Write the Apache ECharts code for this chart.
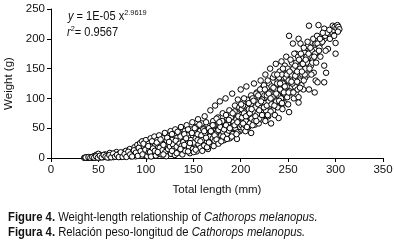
<!DOCTYPE html>
<html>
<head>
<meta charset="utf-8">
<script src="https://cdn.jsdelivr.net/npm/echarts@6/dist/echarts.min.js"></script>
<style>
html,body{margin:0;padding:0;background:#fff;}
#chart{width:394px;height:246px;}
</style>
</head>
<body>
<div id="chart"></div>
<script>
// ---- data ----
const xTicks = [0, 50, 100, 150, 200, 250, 300, 350];
const yTicks = [0, 50, 100, 150, 200, 250];

// [total length (mm), weight (g)]
const smallFish = [
[35,0.3],[36,0.5],[37,0.2],[38,0.6],[38,1.2],[39,0.4],[40,0.8],[40,0.3],[41,1.5],[42,0.6],[42,1.0],[43,0.3],[44,0.9],[44,2.0],[45,1.1],[46,0.5],[46,3.5],[47,1.4],[48,0.8],[48,5.5],[49,2.2],[50,1.0],[50,7.0],[51,1.6],[52,0.9],[53,2.5],[54,4.5],[55,1.3],[56,2.0],[57,6.0],[58,1.5],[59,3.0],[60,2.2],[61,0.8],[62,8.5],[63,3.5],[64,2.0],[65,4.0],[66,1.5],[67,6.5],[68,3.0],[69,10.0],[70,2.5],[71,4.5],[72,7.5],[73,3.2],[74,1.8],[75,5.0],[76,9.0],[77,3.8],[78,2.5],[79,12.0],[80,5.5],[81,4.0],[82,8.0],[83,15.0],[84,3.0],[85,6.5],[86,10.5],[87,4.5],[88,18.0],[88,7.5],[89,2.8],[90,12.0],[90,5.5],[91,22.0],[92,8.0],[93,4.0],[93,15.5],[94,25.0],[95,6.5],[95,10.0],[96,28.0],[96,3.5],[97,13.0],[98,8.5],[98,20.0],[99,5.5],[100,30.0],[100,11.0],[101,16.0],[102,7.5],
[36.5,0.8],[39.5,1.5],[41.5,0.4],[43.5,1.8],[45.5,0.7],[47.5,2.8],[49.5,0.6],[51.5,3.8],[53.5,1.2],[55.5,5.0],[57.5,2.5],[59.5,0.9],[61.5,4.8],[63.5,1.2],[65.5,7.5],[67.5,2.2],[69.5,5.2],[71.5,1.5],[73.5,9.5],[75.5,2.0],[77.5,6.5],[79.5,1.8],[81.5,10.5],[83.5,6.0],[85.5,2.5],[87.5,13.0],[89.5,9.0],[91.5,3.5],[92.5,17.0],[94.5,11.5],[96.5,6.0],[97.5,24.0],[99.5,14.0],[101.5,3.0]
];
const mediumFish = [
[103,24],[103,9.5],[104,14],[105,33],[105,6.5],[106,19],[107,11],[108,27],[108,8],[109,36],[110,15],[110,22],[111,5],[112,12],[112,30],[113,18],[114,9],[114,38],[115,25],[116,14],[117,20],[117,7],[118,33],[119,11],[119,16],[120,42],[120,24],[121,13],[122,29],[122,9],[123,18],[124,36],[124,21],[125,12],[126,26],[126,45],[127,16],[128,31],[128,10],[129,22],[130,38],[130,14],[131,48],[131,19],[132,27],[133,12],[133,34],[134,23],[135,17],[135,42],[136,29],[137,14],[137,52],[138,25],[139,20],[139,35],[140,31],[140,16],[141,45],[142,22],[142,28],[143,55],[143,18],[144,38],[145,26],[145,14],[146,33],[147,48],[147,21],[148,29],[149,60],[149,24],[150,36],[150,18],[151,42],[151,28],[152,22],[153,52],[153,31],[154,25],[155,65],[155,38],[156,20],[156,29],[157,45],[158,33],[158,24],[159,58],[159,27],[160,40],[160,19],[161,35],[162,70],[162,30],[163,48],[163,25],[164,38],[165,55],[165,22],[166,33],[166,44],[167,28],[168,80],[168,37],[169,50],[169,31],[170,42],[170,26],[171,62],[171,36],[172,46],[173,33],[173,88],[174,40],[174,54],[175,29],[175,44],[176,68],[176,38],[177,50],[178,35],[178,95],[179,57],[179,43],[180,48],[180,32],[181,75],[181,52],[182,40],[183,60],[183,45],[184,37],[184,100],[185,55],[185,48],[186,66],[186,42],[187,52],[188,80],[188,38],[189,58],[189,47],[190,62],[190,44],[191,108],[191,54],[192,70],[192,49],[193,42],[194,65],[194,88],[195,56],[195,48],[196,75],[196,32],[197,60],[197,98],[198,52],[198,68],[199,45],[200,72],[200,60],[200,115],
[102.5,20],[104.5,10],[105.5,2.5],[106.5,28],[107.5,16],[109.5,12],[110.5,4],[111.5,26],[113.5,8],[114.5,17],[115.5,31],[116.5,6],[117.5,13],[118.5,22],[120.5,10],[121.5,3],[122.5,34],[123.5,15],[125.5,19],[126.5,7],[127.5,40],[128.5,23],[129.5,15],[130.5,5],[131.5,29],[132.5,19],[133.5,44],[134.5,9],[135.5,24],[136.5,36],[137.5,20],[138.5,6],[139.5,27],[140.5,40],[141.5,12],[142.5,33],[143.5,24],[144.5,48],[145.5,19],[146.5,8],[147.5,30],[148.5,42],[149.5,15],[150.5,26],[151.5,50],[152.5,33],[153.5,11],[154.5,40],[155.5,23],[156.5,56],[157.5,17],[158.5,38],
[159.5,30],[160.5,48],[161.5,21],[162.5,42],[163.5,60],[164.5,28],[165.5,15],[166.5,50],[167.5,36],[168.5,24],[169.5,44],[170.5,33],[171.5,55],[172.5,29],[173.5,40],[174.5,66],[175.5,35],[176.5,47],[177.5,27],[178.5,52],[179.5,38],[180.5,62],[181.5,44],[182.5,30],[183.5,54],[184.5,72],[185.5,40],[186.5,58],[187.5,46],[188.5,33],[189.5,68],[190.5,52],[191.5,40],[192.5,60],[193.5,78],[194.5,50],[195.5,65],[196.5,43],[197.5,55],[198.5,85],[199.5,62],[200.5,48],
[112.5,10],[118.5,6],[124.5,27],[127.5,12],[132.5,8],[136.5,15],[140.5,22],[144.5,11],[146.5,25],[150.5,10],[152.5,14],[154.5,30],[157.5,28],[159.5,12],[161.5,45],[163.5,34],[164.5,18],[166.5,26],[168.5,45],[170.5,55],[171.5,20],[172.5,38],[174.5,31],[176.5,24],[177.5,60],[179.5,28],[181.5,36],[182.5,48],[184.5,55],[185.5,32],[187.5,64],[188.5,50],[190.5,36],[191.5,75],[193.5,55],[195.5,40],[196.5,60],[197.5,70],[199.5,52]
];
const largeFish = [
[201,55],[201,82],[202,65],[203,50],[203,92],[204,70],[204,60],[205,78],[205,45],[206,67],[206,120],[207,58],[207,85],[208,72],[208,52],[209,95],[209,64],[210,80],[210,70],[211,42],[211,105],[212,75],[212,60],[213,88],[213,68],[214,125],[214,78],[215,56],[215,92],[216,72],[216,84],[217,63],[217,110],[218,80],[218,95],[219,70],[219,58],[220,88],[220,100],[221,75],[221,130],[222,92],[222,65],[223,82],[223,118],[224,96],[224,72],[225,105],[225,86],[226,62],[226,140],[227,92],[227,78],[228,110],[228,100],[229,85],[229,70],[230,125],[230,96],[231,88],[231,150],[232,105],[232,58],[233,92],[233,115],[234,80],[234,135],[235,100],[235,110],[236,88],[236,72],[237,120],[237,158],[238,98],[238,108],[239,130],[239,85],[240,115],[240,67],[241,102],[241,145],[242,92],[242,125],[243,112],[243,162],[244,100],[244,82],[245,135],[245,118],[246,108],[246,92],[247,150],[247,125],[248,115],[248,170],[249,102],[249,138],[250,122],[250,90],[251,205],[251,77],[252,130],[252,148],[253,110],[253,118],[254,160],[254,135],[255,192],[255,125],[256,100],[256,145],[257,120],[257,132],[258,175],[258,108],[259,140],[260,155],[260,115],[261,200],[261,102],[261,93],[262,130],[263,192],[263,148],[264,168],[264,122],[265,140],[266,115],[266,160],[267,178],[268,135],[268,150],[269,185],[270,160],[271,188],[271,140],[272,222],[272,115],[273,170],[274,155],[275,180],[276,165],[277,143],[278,110],[278,190],[279,130],[279,192],[280,175],[281,192],[281,127],[282,223],[283,185],[284,170],[285,200],[286,195],[288,155],[288,127],[288,217],[289,205],[290,143],[291,210],[292,183],[294,200],[296,212],[297,222],[298,215],[299,220],[300,193],[300,175],[301,218],[302,223],[303,220],[304,216],
[201.5,68],[202.5,88],[203.5,75],[204.5,55],[205.5,62],[206.5,98],[207.5,70],[208.5,82],[209.5,58],[210.5,90],[211.5,66],[212.5,100],[213.5,78],[214.5,62],[215.5,85],[216.5,108],[217.5,74],[218.5,90],[219.5,66],[220.5,115],[221.5,84],[222.5,98],[223.5,76],[224.5,122],[225.5,92],[226.5,80],[227.5,105],[228.5,130],[229.5,95],[230.5,110],[231.5,78],[232.5,120],[233.5,102],[234.5,90],[235.5,140],[236.5,115],[237.5,95],[238.5,125],[239.5,105],[240.5,135],[241.5,115],[242.5,100],[243.5,140],[244.5,125],[245.5,110],[246.5,155],[247.5,135],[248.5,120],[249.5,150],[250.5,130],[251.5,112],[252.5,165],[253.5,140],[254.5,125],[255.5,150],[256.5,175],[257.5,138],[258.5,160],[259.5,128],[260.5,170],
[262.5,150],[263.5,175],[265.5,158],[266.5,185],[267.5,140],[269.5,170],[270.5,195],[272.5,150],[273.5,185],[275.5,160],[276.5,200],[278.5,175],[280.5,205],[283.5,200],[286.5,210],[289.5,180],[293.5,215],[298.5,205],[302.5,212],
[200.5,90],[202.5,58],[203.5,100],[205.5,70],[206.5,52],[208.5,92],[209.5,75],[211.5,82],[212.5,55],[213.5,96],[215.5,70],[216.5,62],[218.5,105],[219.5,80],[221.5,95],[222.5,72],[224.5,85],[225.5,115],[227.5,88],[228.5,72],[229.5,108],[231.5,100],[232.5,90],[234.5,118],[235.5,88],[237.5,108],[238.5,140],[240.5,96],[241.5,125],[243.5,92],[244.5,150],[246.5,120],[248.5,140],[250.5,110],[251.5,145],[253.5,128],[255.5,110],[257.5,155],[259.5,145],[261.5,165],[262.5,118],[264.5,145],[266.5,130],[268.5,165],[271.5,175],[274.5,140],[277.5,170],[279.5,160],[282.5,180]
];

// fitted curve y = 1E-05 x^2.9619, read at these lengths
const fitLength = [35, 50, 75, 100, 125, 150, 175, 200, 225, 250, 275, 300];
const fitWeight = [0.37, 1.08, 3.58, 8.39, 16.3, 27.9, 44.0, 65.4, 92.7, 126.6, 167.9, 217.3];

const captionLines = [
  ['Figure 4.', ' Weight-length relationship of ', 'Cathorops melanopus.'],
  ['Figura 4.', ' Relación peso-longitud de ', 'Cathorops melanopus.']
];

// ---- chart ----
const FONT = "'Liberation Sans Narrow','Arial Narrow','Liberation Sans',Arial,sans-serif";
const chart = echarts.init(document.getElementById('chart'), null, {renderer: 'canvas'});

const allFish = smallFish.concat(mediumFish, largeFish);
const fitData = fitLength.map((x, i) => [x, fitWeight[i]]);

const axisCommon = {
  axisLine: {show: true, onZero: false, lineStyle: {color: '#000', width: 1}},
  axisTick: {show: true, inside: false, length: 4, lineStyle: {color: '#000', width: 1}},
  splitLine: {show: false},
  axisLabel: {color: '#111', fontSize: 11.5, fontFamily: FONT, margin: 6},
  nameTextStyle: {color: '#111', fontSize: 11.5, fontFamily: FONT}
};

function richText(parts) {
  return '{b|' + parts[0] + '}{n|' + parts[1] + '}{it|' + parts[2] + '}';
}
const captionRich = {
  b: {fontWeight: 'bold', fontSize: 12, fontFamily: FONT, fill: '#111'},
  n: {fontSize: 12, fontFamily: FONT, fill: '#111'},
  it: {fontStyle: 'italic', fontSize: 12, fontFamily: FONT, fill: '#111'}
};

chart.setOption({
  animation: false,
  backgroundColor: '#fff',
  grid: {left: 51, right: 11, top: 9, bottom: 88, containLabel: false, outerBoundsMode: 'none'},
  xAxis: Object.assign({}, axisCommon, {
    type: 'value', min: xTicks[0], max: xTicks[xTicks.length - 1], interval: 50,
    name: 'Total length (mm)', nameLocation: 'middle', nameGap: 26
  }),
  yAxis: Object.assign({}, axisCommon, {
    type: 'value', min: yTicks[0], max: yTicks[yTicks.length - 1], interval: 50,
    name: 'Weight (g)', nameLocation: 'middle', nameGap: 30, nameRotate: 90
  }),
  series: [
    {
      type: 'line', data: fitData, smooth: true, showSymbol: false, z: 1,
      lineStyle: {color: '#000', width: 1}
    },
    {
      type: 'scatter', data: allFish, symbol: 'circle', symbolSize: 5.5, z: 2,
      itemStyle: {color: '#fff', borderColor: '#000', borderWidth: 1, opacity: 1}
    }
  ],
  graphic: [
    {
      type: 'text', left: 68, top: 9, scaleX: 0.92,
      style: {
        text: '{i|y} {n|= 1E-05 x}{s|2.9619}',
        rich: {
          i: {fontStyle: 'italic', fontSize: 12, fontFamily: FONT, fill: '#111'},
          n: {fontSize: 12, fontFamily: FONT, fill: '#111'},
          s: {fontSize: 8, fontFamily: FONT, fill: '#111', padding: [0, 0, 8, 0]}
        }
      }
    },
    {
      type: 'text', left: 67, top: 25, scaleX: 0.92,
      style: {
        text: '{i|r}{s|2}{n|= 0.9567}',
        rich: {
          i: {fontStyle: 'italic', fontSize: 12, fontFamily: FONT, fill: '#111'},
          n: {fontSize: 12, fontFamily: FONT, fill: '#111'},
          s: {fontSize: 8, fontFamily: FONT, fill: '#111', padding: [0, 0, 8, 0]}
        }
      }
    },
    {
      type: 'text', left: 8, top: 212, scaleX: 0.94,
      style: {text: richText(captionLines[0]), rich: captionRich}
    },
    {
      type: 'text', left: 8, top: 227, scaleX: 0.94,
      style: {text: richText(captionLines[1]), rich: captionRich}
    }
  ]
});
</script>
</body>
</html>
